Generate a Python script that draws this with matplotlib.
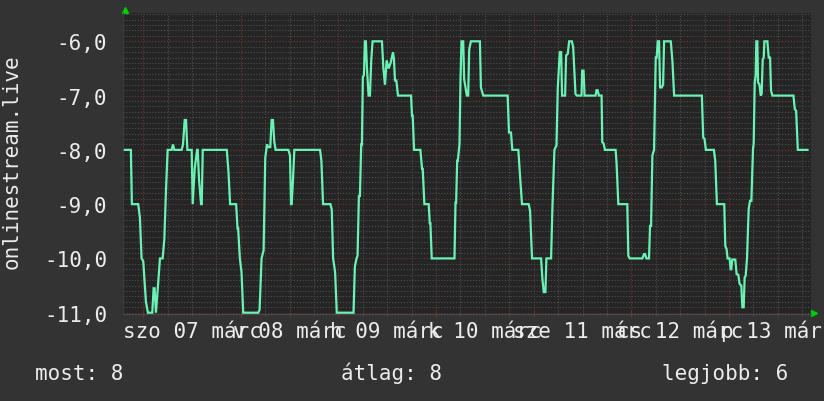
import numpy as np
import matplotlib
matplotlib.use("Agg")
import matplotlib.pyplot as plt
from matplotlib import transforms
from matplotlib.ticker import FixedLocator, MultipleLocator

# ---- data: hours since márc 07 00:00, rank of onlinestream.live ----
HOURS = [
    # szo 07
    -4.52, -3.04, -2.79, -1.23, -0.82, -0.41, 0.0, 0.66, 1.15, 2.22, 2.55, 2.79,
    3.12, 3.53, 4.11, 4.77, 5.18, 5.59, 6.0, 6.98, 7.31, 7.64, 9.45, 9.78, 10.19,
    10.52, 10.85, 11.91, 12.16, 12.65, 13.23, 13.39, 13.72, 14.22, 14.38, 14.63,
    14.79, 20.54, 20.95, 21.36, 22.84,
    # v 08
    23.18, 23.34, 23.75, 24.16, 24.58, 28.27, 28.6, 29.09, 29.59, 30.0, 30.41,
    30.74, 31.23, 31.56, 31.89, 32.22, 32.55, 35.67, 36.08, 36.33, 36.49, 36.82,
    37.15, 43.47, 43.8, 44.21, 46.02, 46.35, 46.68, 47.17, 47.58,
    # h 09
    51.70, 52.03, 52.44, 52.69, 53.02, 53.27, 53.59, 53.76, 54.0, 54.25, 54.5,
    54.74, 54.99, 55.4, 55.73, 56.06, 56.38, 58.69, 59.02, 59.43, 59.84, 60.33,
    60.82, 61.4, 61.64, 61.89, 62.22, 62.63, 65.84, 66.08, 66.25, 66.58, 68.14,
    68.55, 68.71, 69.12, 70.19, 70.44, 70.6, 70.93, 76.52, 76.77, 76.93, 77.18,
    77.34, 77.75, 78.0, 78.25, 78.66, 78.9, 79.23, 79.56,
    # k 10
    79.89, 80.14, 80.55, 82.77, 83.02, 83.59, 89.59, 89.92, 90.41, 90.74, 92.22,
    92.63, 93.12, 94.77, 95.1, 95.59, 97.81, 98.14, 98.47, 98.88, 99.12, 100.27,
    100.6, 101.09, 101.59, 101.92, 102.41, 102.74, 102.98, 103.72, 103.97,
    104.38, 104.71, 105.37, 105.7, 106.27, 106.6,
    # sze 11
    107.76, 107.92, 108.25, 108.5, 111.21, 111.45, 111.7, 112.03, 112.69, 112.85,
    113.18, 113.51, 116.14, 116.38, 116.8, 119.01, 119.26, 119.59, 122.71, 123.12,
    123.37, 123.7, 124.35, 124.6, 124.85, 125.18, 125.59, 126.0, 126.24, 126.49,
    126.82, 127.07, 127.48, 127.81, 128.05, 129.7, 130.11, 130.52,
    # cs 12 / p 13
    137.34, 137.67, 138.0, 138.33, 140.3, 140.63, 141.04, 142.85, 143.1, 143.42,
    143.67, 144.16, 144.41, 144.58, 144.82, 145.56, 145.89, 146.3, 146.63, 147.04,
    147.29, 147.62, 147.86, 148.11, 148.44, 148.85, 149.18, 149.51, 149.92,
    150.08, 150.33, 150.57, 150.74, 150.98, 151.15, 151.48, 151.81, 152.05,
    152.3, 152.55, 152.71, 153.45, 153.78, 154.11, 154.35, 154.68, 159.86,
    160.19, 160.52, 160.93, 163.31,
]
RANK = [
    -8, -8, -9, -9, -9.25, -10, -10.05, -10.8, -11, -11, -10.55, -10.55,
    -11, -10.6, -10, -10, -9.65, -8.75, -8, -8, -7.9, -8, -8, -7.9, -7.45,
    -7.45, -8, -8, -9, -8.35, -8, -8, -8.55, -9, -9, -8,
    -8, -8, -8.4, -9, -9,

    -9.45, -9.45, -10, -10.25, -11, -11, -10.95, -10, -9.85, -8.15, -7.9,
    -7.95, -7.95, -7.45, -7.45, -7.85, -8, -8, -8.1, -9, -9, -8.55,
    -8, -8, -8.2, -9, -9, -9.1, -10, -10.25, -11,

    -11, -10.15, -10, -9.95, -8.85, -8.85, -7.9, -7.9, -6.65, -6.63, -6,
    -6, -6.48, -7, -7, -6.35, -6, -6, -6.48, -6.8, -6.35, -6.5,
    -6.4, -6.2, -6.33, -6.72, -6.72, -7, -7, -7.37, -7.37, -8, -8,
    -8.35, -8.35, -9, -9, -9.35, -9.35, -10, -10, -8.97, -8.97, -8.2,
    -8.2, -7.9, -6.7, -6, -6, -6.7, -6.85, -7,

    -7, -6.15, -6, -6, -6.85, -7, -7, -7.68, -7.68, -8, -8,
    -8.47, -9, -9, -9.12, -10, -10, -10.38, -10.62, -10.62, -10, -10,
    -9.06, -8, -7.92, -6.85, -6.2, -6.2, -7, -7, -6.26,
    -6.23, -6, -6, -6.1, -6.97, -7,

    -7, -6.54, -6.54, -7, -7, -6.9, -6.9, -7, -7, -7.86,
    -7.88, -8, -8, -8.26, -9, -9, -9.95, -10, -10, -9.92,
    -9.92, -10, -10, -9.4, -9.4, -8.1, -8, -6.3, -6.3, -6,
    -6, -6.85, -6.85, -6.8, -6, -6, -6.37, -7,

    -7, -7.77, -7.8, -8, -8, -8.2, -9, -9, -9.77, -9.83,
    -10, -10, -10.2, -10.2, -10.02, -10.02, -10.29, -10.3, -10.47, -10.5,
    -10.9, -10.9, -10.35, -10.32, -10, -9.09, -8.94, -8.94, -7.98,
    -7.89, -6.76, -6.63, -6, -6, -6.76, -6.79, -7, -6.97,
    -6.33, -6.3, -6, -6, -6.3, -6.3, -6.91, -7, -7,
    -7.25, -7.28, -8, -8,
]
assert len(HOURS) == len(RANK)

Y_TICKS = [-11, -10, -9, -8, -7, -6]
Y_LABELS = ["-11,0", "-10,0", "-9,0", "-8,0", "-7,0", "-6,0"]
LABEL_HOURS = [12, 36, 60, 84, 108, 132, 156]   # rrdtool puts day labels at noon
DAY_LABELS = ["szo 07 márc", "v 08 márc", "h 09 márc", "k 10 márc",
              "sze 11 márc", "cs 12 márc", "p 13 márc"]
LEGEND = ["most: 8", "átlag: 8", "legjobb: 6"]
LEGEND_X = [35, 341, 662]                        # px from left

# ---- style ----
BACK = "#333333"
CANVAS = "#252525"
GRID_MINOR = "#4e4e4e"
GRID_MAJOR = "#6e3434"
LINE = "#6af2b4"
ARROW = "#00cc00"
TEXT = "#ececec"
MONO = "DejaVu Sans Mono"
FS = 15

W, H = 824, 402
fig = plt.figure(figsize=(W / 100, H / 100), dpi=100, facecolor=BACK)
ax = fig.add_axes([122.7 / W, 1 - 315 / H, 688 / W, (315 - 13.5) / H])
ax.set_facecolor(CANVAS)

ax.plot(HOURS, RANK, color=LINE, lw=1.6, solid_joinstyle="miter", zorder=3)

ax.set_xlim(-5.05, 164.1)
ax.set_ylim(-11.024, -5.469)

ax.xaxis.set_major_locator(MultipleLocator(24))
ax.xaxis.set_minor_locator(MultipleLocator(6))
ax.yaxis.set_major_locator(FixedLocator(Y_TICKS))
ax.yaxis.set_minor_locator(MultipleLocator(0.1))
ax.set_yticklabels(Y_LABELS)

ax.set_axisbelow(True)
ax.grid(which="minor", color=GRID_MINOR, linestyle=(0, (1, 1.6)), lw=0.8)
ax.grid(which="major", color=GRID_MAJOR, linestyle=(0, (1, 1.6)), lw=0.8)

ax.tick_params(axis="y", which="both", length=0, pad=11.3,
               labelsize=FS, labelcolor=TEXT)
for lab in ax.get_yticklabels():
    lab.set_family(MONO)
ax.tick_params(axis="x", which="major", direction="inout", length=4,
               color=GRID_MAJOR, labelbottom=False)
ax.tick_params(axis="x", which="minor", direction="inout", length=3,
               color=GRID_MINOR)

for s in ("top", "right"):
    ax.spines[s].set_visible(False)
ax.spines["bottom"].set_color("#4a4a4a")
ax.spines["left"].set_color("#3c3c3c")

# green axis arrows
ax.plot([0.0035], [1.008], marker="^", ms=5, color=ARROW, mec=ARROW,
        transform=ax.transAxes, clip_on=False)
ax.plot([1.0045], [0.004], marker=">", ms=5, color=ARROW, mec=ARROW,
        transform=ax.transAxes, clip_on=False)

# day labels (they overlap like the original)
trans = transforms.blended_transform_factory(ax.transData, fig.transFigure)
for t, lab in zip(LABEL_HOURS, DAY_LABELS):
    ax.text(t, 1 - 338 / H, lab, transform=trans, ha="center", va="baseline",
            fontsize=FS, color=TEXT, family=MONO, clip_on=False)

fig.text(12 / W, 1 - 162 / H, "onlinestream.live", rotation=90,
         ha="center", va="center", fontsize=FS, color=TEXT, family=MONO)

for x, s in zip(LEGEND_X, LEGEND):
    fig.text(x / W, 1 - 380 / H, s, ha="left", va="baseline",
             fontsize=FS, color=TEXT, family=MONO)

fig.savefig("out.png", dpi=100, facecolor=BACK)
